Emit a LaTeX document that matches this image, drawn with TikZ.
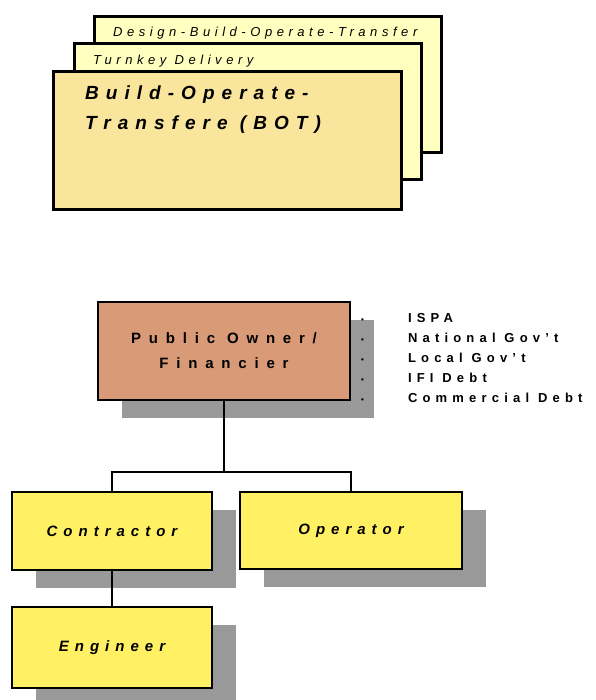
\documentclass[tikz,border=0pt]{standalone}
\usepackage{fontspec}
\setmainfont{Liberation Sans}
\usepackage{tikz}
\usetikzlibrary{positioning,shadows}
\definecolor{CardPale}{HTML}{FFFFC0}
\definecolor{CardTan}{HTML}{F9E59B}
\definecolor{OwnerClay}{HTML}{D99A78}
\definecolor{PartyYellow}{HTML}{FFF064}
\definecolor{ShadowGrey}{HTML}{999999}

\begin{document}
\begin{tikzpicture}[
  x=1pt, y=1pt,
  cardbox/.style={
    draw=black,
    line width=2.6pt,
    fill=CardPale,
    anchor=north west,
    inner sep=0pt,
    minimum width=347pt,
    minimum height=136pt
  },
  frontcard/.style={cardbox, fill=CardTan, minimum width=348pt, minimum height=138pt},
  cardtext/.style={anchor=base west, inner sep=0pt,
    font=\itshape\fontsize{13}{15}\selectfont\addfontfeature{LetterSpace=35}},
  bigcardtext/.style={anchor=base west, inner sep=0pt, align=left,
    font=\bfseries\itshape\fontsize{19}{30}\selectfont\addfontfeature{LetterSpace=37}},
  rolebox/.style={
    draw=black,
    line width=2.6pt,
    inner sep=0pt,
    drop shadow={shadow xshift=24pt, shadow yshift=-18pt, fill=ShadowGrey, opacity=1}
  },
  ownerbox/.style={rolebox, fill=OwnerClay, minimum width=252pt, minimum height=98pt, align=center,
    font=\bfseries\fontsize{15}{25}\selectfont\addfontfeature{LetterSpace=52}},
  partybox/.style={rolebox, fill=PartyYellow, minimum height=78pt,
    font=\bfseries\itshape\fontsize{15}{17}\selectfont\addfontfeature{LetterSpace=40}},
  fundlist/.style={anchor=base west, inner sep=0pt,
    font=\bfseries\fontsize{13}{20}\selectfont\addfontfeature{LetterSpace=40}},
  linkline/.style={line width=2.6pt, draw=black}
]
\useasboundingbox (0,0) rectangle (595,700);
\node[cardbox] (dbot) at (93,685) {};
\node[cardtext] (dbottext) at (113,663) {Design-Build-Operate-Transfer};
\node[cardbox] (turnkey) at (73,658) {};
\node[cardtext] (turnkeytext) at (93,635) {Turnkey Delivery};
\node[frontcard] (bot) at (52,630) {};
\node[bigcardtext] (bottext) at (85,570) {Build-Operate-\\Transfere (BOT)};
\node[ownerbox] (owner) at (224,349) {Public Owner/\\Financier};
\node[fundlist] (funds) at (361,377) {%
  \begin{tabular}[t]{@{}l@{\hspace{44pt}}l@{}}
  {\fontsize{8}{8}\selectfont\textbullet} & ISPA\\
  {\fontsize{8}{8}\selectfont\textbullet} & National Gov't\\
  {\fontsize{8}{8}\selectfont\textbullet} & Local Gov't\\
  {\fontsize{8}{8}\selectfont\textbullet} & IFI Debt\\
  {\fontsize{8}{8}\selectfont\textbullet} & Commercial Debt
  \end{tabular}};
\node[partybox, minimum width=200pt] (contractor) at (112,169) {Contractor};
\node[partybox, minimum width=222pt, minimum height=77pt] (operator) at (351,169.5) {Operator};
\node[partybox, minimum width=200pt, minimum height=81pt] (engineer) at (112,52.5) {Engineer};
\coordinate (split) at (224,228);
\draw[linkline] (owner.south) -- (split);
\draw[linkline] (contractor.north) |- (split) -| (operator.north);
\draw[linkline] (contractor) -- (engineer);
\end{tikzpicture}
\end{document}
